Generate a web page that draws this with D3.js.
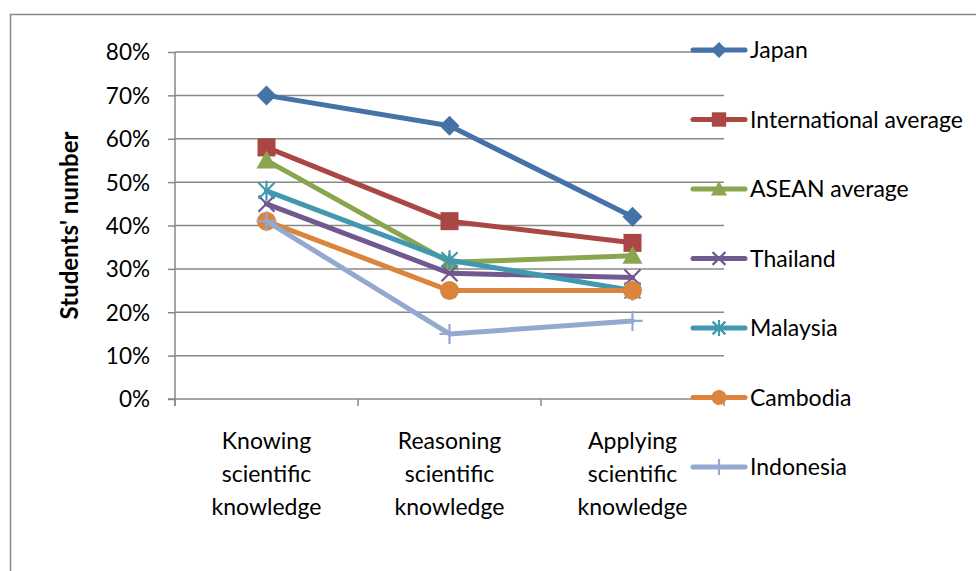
<!DOCTYPE html>
<html><head><meta charset="utf-8">
<script src="https://cdn.jsdelivr.net/npm/d3@7"></script>
<style>body{margin:0;background:#fff}svg{display:block}text{font-family:Lato,"Open Sans",sans-serif}</style>
</head><body>
<svg id="c" width="976" height="571"></svg>
<script>
const categories = [["Knowing","scientific","knowledge"],["Reasoning","scientific","knowledge"],["Applying","scientific","knowledge"]];
const categoryKeys = ["Knowing", "Reasoning", "Applying"];
const seriesNames = ["Japan","International average","ASEAN average","Thailand","Malaysia","Cambodia","Indonesia"];
const japan = [70, 63, 42];
const international = [58, 41, 36];
const asean = [55, 31.5, 33];
const thailand = [45, 29, 28];
const malaysia = [48, 32, 25];
const cambodia = [41, 25, 25];
const indonesia = [41, 15, 18];
const yTicks = [0,10,20,30,40,50,60,70,80];
const colors = ["#4572A7","#AA4643","#89A54E","#71588F","#4198AF","#DB843D","#93A9CF"];
const markers = ["diamond","square","triangle","x","star","circle","plus"];
const seriesValues = [japan, international, asean, thailand, malaysia, cambodia, indonesia];

const svg = d3.select("#c");
svg.append("rect").attr("x",10.5).attr("y",14.5).attr("width",1000).attr("height",600)
  .attr("fill","none").attr("stroke","#888").attr("stroke-width",1.5);

const L=175, R=724, T=52, B=399;
const x = d3.scaleBand().domain(categoryKeys).range([L,R]);
const y = d3.scaleLinear().domain([0,80]).range([B,T]);
const g = svg.append("g");

// gridlines
g.selectAll(".grid").data(yTicks.filter(d=>d>0)).join("line")
  .attr("x1",L).attr("x2",R).attr("y1",d=>y(d)).attr("y2",d=>y(d))
  .attr("stroke","#888").attr("stroke-width",1.5);

// y axis
const ya = g.append("g").attr("transform",`translate(${L},0)`)
  .call(d3.axisLeft(y).tickValues(yTicks).tickSize(7).tickPadding(18).tickFormat(d=>d+"%"));
ya.select(".domain").attr("stroke","#888").attr("stroke-width",1.5).attr("d",`M0,${T}V${B+7}`);
ya.selectAll(".tick line").attr("stroke","#888").attr("stroke-width",1.5);
ya.selectAll(".tick text").attr("font-size",22.5).attr("fill","#000").attr("dy","0.35em");

// x axis
const xa = g.append("g").attr("transform",`translate(0,${B})`);
xa.append("line").attr("x1",L-7).attr("x2",R).attr("y1",0).attr("y2",0).attr("stroke","#888").attr("stroke-width",1.5);
const bounds = categoryKeys.map(k=>x(k)).concat([R]);
xa.selectAll(".xt").data(bounds).join("line").attr("x1",d=>d).attr("x2",d=>d).attr("y1",0).attr("y2",7)
  .attr("stroke","#888").attr("stroke-width",1.5);
categoryKeys.forEach((k,i)=>{
  const t = xa.append("text").attr("text-anchor","middle").attr("font-size",23).attr("fill","#000")
    .attr("transform",`translate(${x(k)+x.bandwidth()/2},50)`);
  categories[i].forEach((ln,j)=>t.append("tspan").attr("x",0).attr("y",j*33).text(ln));
});

// y title
svg.append("text").attr("transform",`translate(78,${(T+B)/2}) rotate(-90)`).attr("text-anchor","middle")
  .attr("font-size",24).attr("font-weight","bold").attr("fill","#000").text("Students' number");

function drawMarker(sel, type, color, s){
  if(type==="diamond") sel.append("path").attr("d",`M0,${-s}L${s},0L0,${s}L${-s},0Z`).attr("fill",color);
  else if(type==="square") sel.append("rect").attr("x",-s*0.9).attr("y",-s*0.9).attr("width",s*1.8).attr("height",s*1.8).attr("fill",color);
  else if(type==="triangle") sel.append("path").attr("d",`M0,${-s}L${s},${s*0.8}L${-s},${s*0.8}Z`).attr("fill",color);
  else if(type==="circle") sel.append("circle").attr("r",s*0.95).attr("fill",color);
  else if(type==="x") sel.append("path").attr("d",`M${-s*0.8},${-s*0.8}L${s*0.8},${s*0.8}M${-s*0.8},${s*0.8}L${s*0.8},${-s*0.8}`).attr("stroke",color).attr("stroke-width",2.2);
  else if(type==="star") sel.append("path").attr("d",`M${-s*0.8},${-s*0.8}L${s*0.8},${s*0.8}M${-s*0.8},${s*0.8}L${s*0.8},${-s*0.8}M0,${-s}V${s}`).attr("stroke",color).attr("stroke-width",2.2);
  else if(type==="plus") sel.append("path").attr("d",`M${-s},0H${s}M0,${-s}V${s}`).attr("stroke",color).attr("stroke-width",2.2);
}

const line = d3.line().x((d,i)=>x(categoryKeys[i])+x.bandwidth()/2).y(d=>y(d));
seriesValues.forEach((vals,si)=>{
  const sg = g.append("g");
  sg.append("path").attr("d",line(vals)).attr("fill","none").attr("stroke",colors[si]).attr("stroke-width",5).attr("stroke-linejoin","round").attr("stroke-linecap","round");
  vals.forEach((v,i)=>{
    const m = sg.append("g").attr("transform",`translate(${x(categoryKeys[i])+x.bandwidth()/2},${y(v)})`);
    drawMarker(m, markers[si], colors[si], 10);
  });
});

// legend
const lg = svg.append("g");
seriesNames.forEach((n,i)=>{
  const ly = 50 + i*69.5;
  const it = lg.append("g").attr("transform",`translate(0,${ly})`);
  it.append("line").attr("x1",693).attr("x2",745).attr("y1",0).attr("y2",0).attr("stroke",colors[i]).attr("stroke-width",5).attr("stroke-linecap","round");
  const m = it.append("g").attr("transform","translate(719,0)");
  drawMarker(m, markers[i], colors[i], 8);
  it.append("text").attr("x",750).attr("y",0).attr("dy","0.35em").attr("font-size",23).attr("fill","#000").text(n);
});
</script>
</body></html>
